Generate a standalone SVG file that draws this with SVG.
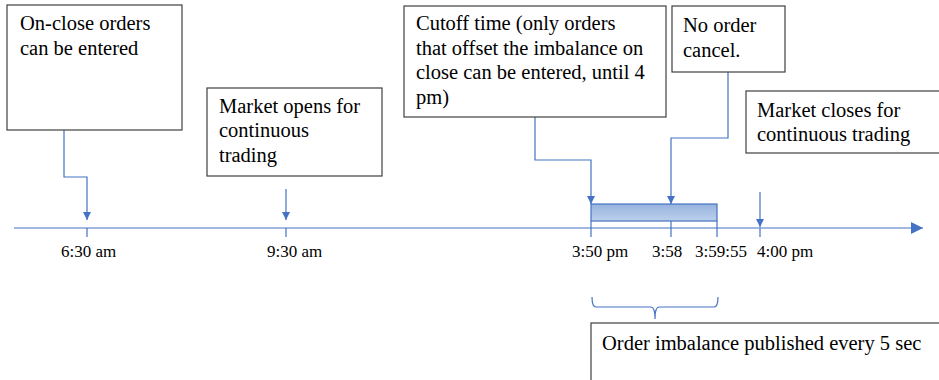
<svg xmlns="http://www.w3.org/2000/svg" width="939" height="380" viewBox="0 0 939 380">
<defs>
<style>
.box{fill:#fff;stroke:#404040;stroke-width:1.2}
.t{font-family:"Liberation Serif","Times New Roman","DejaVu Serif",serif;font-size:20.5px;fill:#000}
.lbl{font-family:"Liberation Serif","Times New Roman","DejaVu Serif",serif;font-size:17px;fill:#000}
.ln{fill:none;stroke:#4472c4;stroke-width:1.2}
</style>
<marker id="ah" viewBox="0 0 10 10" refX="10" refY="5" markerWidth="8" markerHeight="9" markerUnits="userSpaceOnUse" orient="auto">
<path d="M0,0 L10,5 L0,10 z" fill="#4472c4"/>
</marker>
<marker id="axh" viewBox="0 0 10 10" refX="10" refY="5" markerWidth="12" markerHeight="12" markerUnits="userSpaceOnUse" orient="auto">
<path d="M0,0 L10,5 L0,10 z" fill="#4472c4"/>
</marker>
<linearGradient id="bg" x1="0" y1="0" x2="0" y2="1">
<stop offset="0" stop-color="#97b3de"/>
<stop offset="1" stop-color="#bcd0ec"/>
</linearGradient>
</defs>

<g id="connectors">
<line class="ln" x1="14" y1="228" x2="923" y2="228" marker-end="url(#axh)"/>
<line class="ln" x1="87" y1="228" x2="87" y2="237"/>
<line class="ln" x1="286" y1="228" x2="286" y2="237"/>
<line class="ln" x1="591" y1="221" x2="591" y2="237"/>
<line class="ln" x1="671" y1="221" x2="671" y2="237"/>
<line class="ln" x1="717" y1="221" x2="717" y2="237"/>
<line class="ln" x1="760" y1="228" x2="760" y2="237"/>
<polyline class="ln" points="64,130 64,177 87,177 87,220" marker-end="url(#ah)"/>
<line class="ln" x1="286" y1="189" x2="286" y2="220" marker-end="url(#ah)"/>
<polyline class="ln" points="535,117 535,160 591,160 591,204" marker-end="url(#ah)"/>
<polyline class="ln" points="728,72 728,138 671,138 671,204" marker-end="url(#ah)"/>
<line class="ln" x1="760" y1="192" x2="760" y2="227" marker-end="url(#ah)"/>
<path class="ln" d="M592,297 Q592,307 596,307 L651,307 Q655,307 655,319 Q655,307 659,307 L714,307 Q718,307 718,297"/>
</g>

<g id="bar">
<rect x="591" y="204" width="126" height="17" fill="url(#bg)" stroke="#4472c4" stroke-width="1.2"/>
</g>

<g id="node-onclose">
<rect class="box" x="7" y="5" width="175" height="125"/>
<text class="t" x="20" y="30">On-close orders</text>
<text class="t" x="20" y="55">can be entered</text>
</g>

<g id="node-open">
<rect class="box" x="207" y="88" width="175" height="88"/>
<text class="t" x="219" y="113">Market opens for</text>
<text class="t" x="219" y="137">continuous</text>
<text class="t" x="219" y="162">trading</text>
</g>

<g id="node-cutoff">
<rect class="box" x="404" y="6" width="262" height="111"/>
<text class="t" x="416" y="30">Cutoff time (only orders</text>
<text class="t" x="416" y="55">that offset the imbalance on</text>
<text class="t" x="416" y="79">close can be entered, until 4</text>
<text class="t" x="416" y="104">pm)</text>
</g>

<g id="node-nocancel">
<rect class="box" x="672" y="6" width="113" height="66"/>
<text class="t" x="683" y="32">No order</text>
<text class="t" x="683" y="57">cancel.</text>
</g>

<g id="node-close">
<rect class="box" x="746" y="91" width="196" height="62"/>
<text class="t" x="757" y="117">Market closes for</text>
<text class="t" x="757" y="141">continuous trading</text>
</g>

<g id="node-imbalance">
<rect class="box" x="591" y="323" width="360" height="70"/>
<text class="t" x="602" y="350">Order imbalance published every 5 sec</text>
</g>

<g id="labels">
<text class="lbl" x="61" y="257">6:30 am</text>
<text class="lbl" x="267" y="257">9:30 am</text>
<text class="lbl" x="572" y="257">3:50 pm</text>
<text class="lbl" x="652" y="257">3:58</text>
<text class="lbl" x="695" y="257">3:59:55</text>
<text class="lbl" x="757" y="257">4:00 pm</text>
</g>
</svg>
